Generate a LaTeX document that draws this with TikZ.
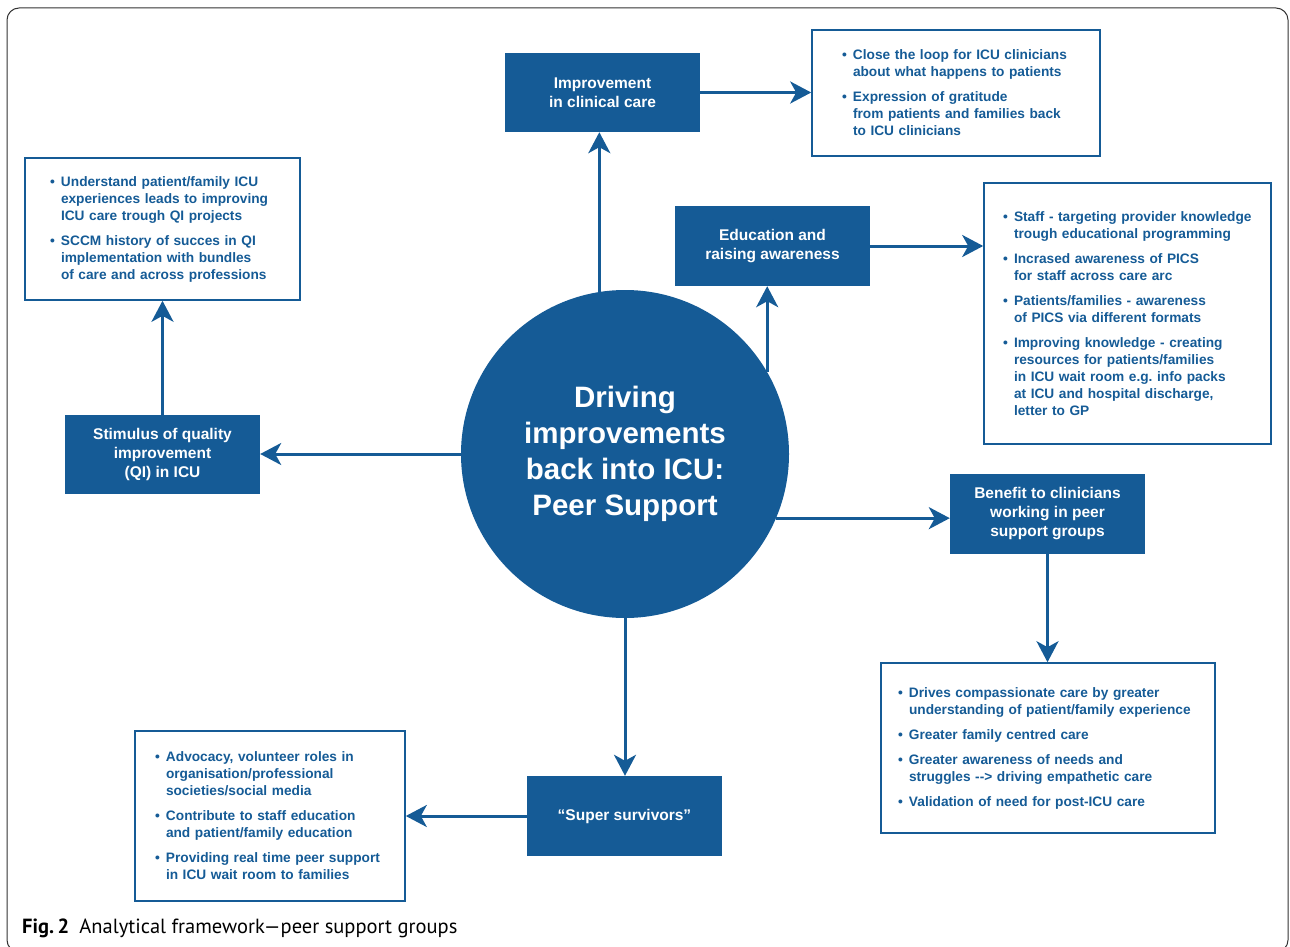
\documentclass[tikz,border=0pt]{standalone}
\usepackage{fontspec}
\setmainfont{Liberation Sans}
\newfontfamily\capfont{PT Sans}
\usetikzlibrary{arrows.meta,positioning}
\definecolor{icublue}{HTML}{155B96}
\frenchspacing
% one bullet point, continuation lines hang under the text
\newcommand{\bitem}[1]{\hangindent=11pt\hangafter=1\noindent\hbox to 11pt{\textbullet\hss}#1\par}

\begin{document}
\begin{tikzpicture}[
    x=1pt, y=-1pt,
    hub/.style={%
      circle, fill=icublue, text=white, align=center, inner sep=0pt,
      minimum size=328pt, font=\fontsize{29.5}{36}\selectfont\bfseries,
    },
    fillbox/.style={%
      rectangle, fill=icublue, text=white, align=center, inner sep=0pt,
      minimum width=195pt, minimum height=80pt,
      font=\fontsize{15.5}{19}\selectfont\bfseries,
    },
    listbox/.style={%
      rectangle, draw=icublue, line width=1.6pt, text=icublue, align=left,
      inner ysep=0pt, font=\fontsize{13.7}{17}\selectfont\bfseries,
      execute at begin node={\setlength{\parskip}{8pt}\hyphenpenalty=10000},
    },
    arr/.style={%
      draw=icublue, line width=3pt,
      -{Stealth[length=21pt, width=22pt, inset=6pt]},
    },
  ]
    \useasboundingbox (0,0) rectangle (1290,947);
    \clip (0,0) rectangle (1290,947);
    \draw [line width=1pt, black!80, rounded corners=12pt] (7,8) rectangle (1288,952);

    \node [hub] (hub) at (625,454) {Driving\\improvements\\back into ICU:\\Peer Support};
    \path (hub) ++(-22.5,-361.5) node [fillbox, minimum height=79pt] (care) {Improvement\\in clinical care};
    \path (hub) ++(331,-361) node [listbox, minimum height=126pt, inner xsep=30pt, text width=228pt] (loop) {%
      \bitem{Close the loop for ICU clinicians\newline about what happens to patients}
      \bitem{Expression of gratitude\newline from patients and families back\newline to ICU clinicians}};
    \path (hub) ++(147.5,-208) node [fillbox] (edu) {Education and\\raising awareness};
    \path (hub) ++(502.5,-140.5) node [listbox, minimum height=261pt, inner xsep=19pt, text width=249pt] (staff) {%
      \bitem{Staff - targeting provider knowledge\newline trough educational programming}
      \bitem{Incrased awareness of PICS\newline for staff across care arc}
      \bitem{Patients/families - awareness\newline of PICS via different formats}
      \bitem{Improving knowledge - creating\newline resources for patients/families\newline in ICU wait room e.g. info packs\newline at ICU and hospital discharge,\newline letter to GP}};
    \path (hub) ++(-462.5,0.5) node [fillbox, minimum height=79pt] (stimulus) {Stimulus of quality\\improvement\\(QI) in ICU};
    \path (hub) ++(-462.5,-225) node [listbox, minimum height=142pt, inner xsep=25pt, text width=225pt] (understand) {%
      \bitem{Understand patient/family ICU\newline experiences leads to improving\newline ICU care trough QI projects}
      \bitem{SCCM history of succes in QI\newline implementation with bundles\newline of care and across professions}};
    \path (hub) ++(422.5,60) node [fillbox] (benefit) {Benefit to clinicians\\working in peer\\support groups};
    \path (hub) ++(423,294) node [listbox, minimum height=170pt, inner xsep=17pt, text width=300pt] (drives) {%
      \bitem{Drives compassionate care by greater\newline understanding of patient/family experience}
      \bitem{Greater family centred care}
      \bitem{Greater awareness of needs and\newline struggles -\kern0pt-\kern0pt> driving empathetic care}
      \bitem{Validation of need for post-ICU care}};
    \path (hub) ++(-0.5,362) node [fillbox] (super) {“Super survivors”};
    \path (hub) ++(-355,362) node [listbox, minimum height=170pt, inner xsep=20pt, text width=230pt] (advocacy) {%
      \bitem{Advocacy, volunteer roles in\newline organisation/professional\newline societies/social media}
      \bitem{Contribute to staff education\newline and patient/family education}
      \bitem{Providing real time peer support\newline in ICU wait room to families}};
    \node [anchor=base west, inner sep=0pt, font=\capfont\fontsize{20.5}{24}\selectfont] (caption) at (22,933) {\textbf{Fig.\,2}\enspace Analytical framework—peer support groups};

    \draw [arr] (hub.99.5) -- (hub.99.5 |- care.south);
    \draw [arr] (care.east) -- (care.east -| loop.west);
    \draw [arr] (hub.30) -- (hub.30 |- edu.south);
    \draw [arr] (edu.east) -- (edu.east -| staff.west);
    \draw [arr] (hub.west) -- (hub.west -| stimulus.east);
    \draw [arr] (stimulus.north) -- (stimulus.north |- understand.south);
    \draw [arr] (hub.-23) -- (hub.-23 -| benefit.west);
    \draw [arr] (benefit.south) -- (benefit.south |- drives.north);
    \draw [arr] (hub.south) -- (hub.south |- super.north);
    \draw [arr] (super.west) -- (super.west -| advocacy.east);
\end{tikzpicture}
\end{document}
